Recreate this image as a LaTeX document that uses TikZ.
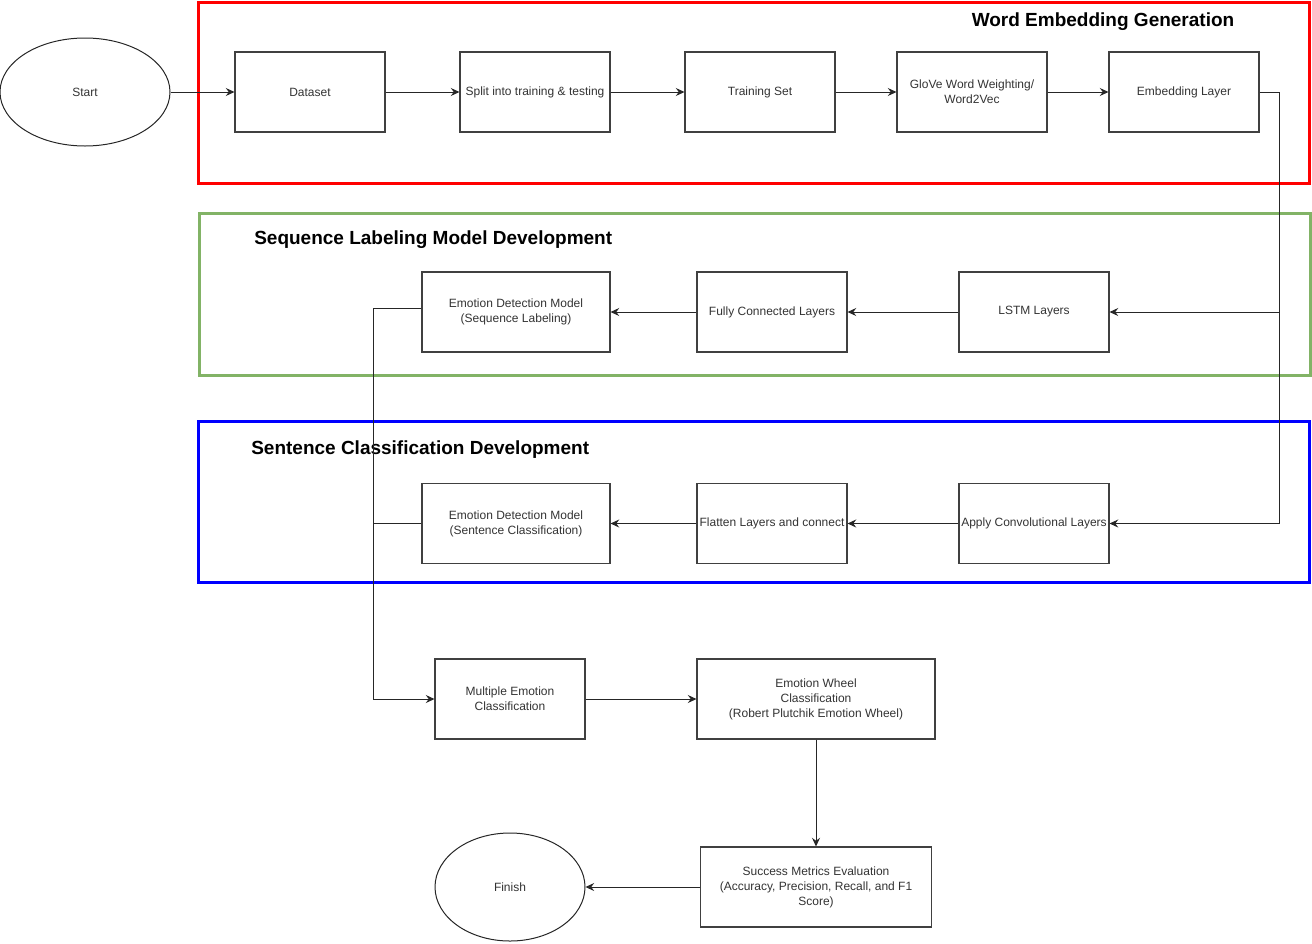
\documentclass[tikz,border=0pt]{standalone}
\usepackage{fontspec}
\setmainfont{Liberation Sans}
\usetikzlibrary{shapes.geometric,arrows.meta}
\definecolor{grpgreen}{HTML}{82B366}
\definecolor{txt}{HTML}{333333}
\tikzset{
  bx/.style={rectangle, draw=black!75, line width=0.8pt, minimum height=60pt, inner sep=1pt,
    align=center, text=txt, font=\fontsize{9}{11.25}\selectfont},
  ell/.style={ellipse, draw=black!85, line width=0.75pt, inner sep=0pt, text=txt,
    font=\fontsize{9}{11.25}\selectfont},
  arr/.style={draw=black!85, line width=0.75pt, -{Stealth[length=6.5pt,width=6pt,inset=2.2pt]}},
  ln/.style={draw=black!85, line width=0.75pt},
  grp/.style={line width=2.25pt},
  ttl/.style={font=\bfseries\fontsize{14.25}{17}\selectfont, text=black, inner sep=0pt}
}
\begin{document}
\begin{tikzpicture}[x=0.75pt,y=-0.75pt]
\useasboundingbox (0,0) rectangle (1312,943);
% group frames
\draw[grp, draw=red] (198,2) rectangle (1309,183);
\draw[grp, draw=grpgreen] (199,213) rectangle (1310,375);
\draw[grp, draw=blue] (198,421) rectangle (1309,582);
\node[ttl] (t1) at (1103,21.5) {Word Embedding Generation};
\node[ttl, anchor=west] (t2) at (254,239.5) {Sequence Labeling Model Development};
\node[ttl, anchor=west] (t3) at (251,449.5) {Sentence Classification Development};
% nodes
\node[ell, minimum width=127.5pt, minimum height=81pt] (start) at (85,92) {Start};
\node[bx, minimum width=112.5pt] (ds) at (310,92) {Dataset};
\node[bx, minimum width=112.5pt] (split) at (535,92) {Split into training \& testing};
\node[bx, minimum width=112.5pt] (train) at (760,92) {Training Set};
\node[bx, minimum width=112.5pt] (glove) at (972,92) {GloVe Word Weighting/\\Word2Vec};
\node[bx, minimum width=112.5pt] (emb) at (1184,92) {Embedding Layer};
\node[bx, minimum width=141pt] (edms) at (516,312) {Emotion Detection Model\\(Sequence Labeling)};
\node[bx, minimum width=112.5pt] (fc) at (772,312) {Fully Connected Layers};
\node[bx, minimum width=112.5pt] (lstm) at (1034,312) {LSTM Layers};
\node[bx, minimum width=141pt] (edmc) at (516,523.5) {Emotion Detection Model\\(Sentence Classification)};
\node[bx, minimum width=112.5pt] (flat) at (772,523.5) {Flatten Layers and connect};
\node[bx, minimum width=112.5pt] (conv) at (1034,523.5) {Apply Convolutional Layers};
\node[bx, minimum width=112.5pt] (mec) at (510,699) {Multiple Emotion\\Classification};
\node[bx, minimum width=178.5pt] (ew) at (816,699) {Emotion Wheel\\Classification\\(Robert Plutchik Emotion Wheel)};
\node[bx, minimum width=173.25pt] (sme) at (816,887) {Success Metrics Evaluation\\(Accuracy, Precision, Recall, and F1\\Score)};
\node[ell, minimum width=112.5pt, minimum height=81pt] (fin) at (510,887) {Finish};
% junctions
\coordinate (j1) at (1279,92);
\coordinate (j2) at (373,699);
% connectors
\draw[arr] (start) -- (ds);
\draw[arr] (ds) -- (split);
\draw[arr] (split) -- (train);
\draw[arr] (train) -- (glove);
\draw[arr] (glove) -- (emb);
\draw[arr] (emb.east) -- (j1) |- (lstm.east);
\draw[arr] (j1) |- (conv.east);
\draw[arr] (lstm) -- (fc);
\draw[arr] (fc) -- (edms);
\draw[arr] (conv) -- (flat);
\draw[arr] (flat) -- (edmc);
\draw[arr] ([yshift=3pt]edms.west) -| (j2) -- (mec.west);
\draw[ln] (edmc.west) -| (j2);
\draw[arr] (mec) -- (ew);
\draw[arr] (ew.south) -- (sme.north);
\draw[arr] (sme) -- (fin);
\end{tikzpicture}
\end{document}
